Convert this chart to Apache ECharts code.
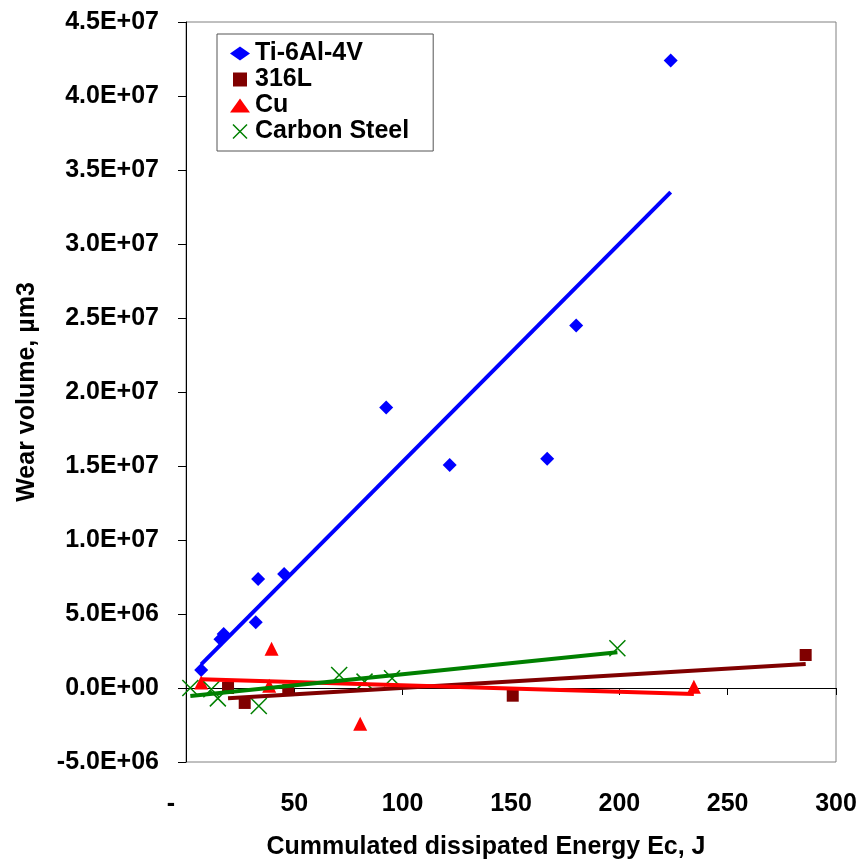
<!DOCTYPE html>
<html>
<head>
<meta charset="utf-8">
<script src="https://cdn.jsdelivr.net/npm/echarts@6/dist/echarts.min.js"></script>
<style>
html,body{margin:0;padding:0;background:#fff;}
#chart{width:862px;height:863px;}
</style>
</head>
<body>
<div id="chart"></div>
<script>
// ---- data ----
const seriesNames = ['Ti-6Al-4V', '316L', 'Cu', 'Carbon Steel'];

const tiX = [7.0, 15.9, 17.4, 32.2, 33.3, 45.3, 92.4, 121.7, 166.7, 180.1, 223.7];
const tiY = [1.22e6, 3.3e6, 3.65e6, 4.44e6, 7.37e6, 7.71e6, 1.896e7, 1.507e7, 1.549e7, 2.45e7, 4.24e7];

const s316X = [19.4, 27.1, 47.2, 150.8, 286.0];
const s316Y = [0.0, -1.01e6, -0.14e6, -0.52e6, 2.23e6];

const cuX = [7.0, 38.4, 39.5, 80.4, 234.4];
const cuY = [0.37e6, 0.16e6, 2.65e6, -2.41e6, 0.09e6];

const csX = [2.0, 11.7, 14.7, 33.6, 70.7, 82.4, 95.1, 199.1];
const csY = [0.0, -0.09e6, -0.7e6, -1.22e6, 0.88e6, 0.43e6, 0.66e6, 2.69e6];

// trend lines (end points)
const tiTrendX = [7.0, 223.7];
const tiTrendY = [1.6e6, 3.35e7];
const s316TrendX = [19.4, 286.0];
const s316TrendY = [-0.7e6, 1.62e6];
const cuTrendX = [7.0, 234.4];
const cuTrendY = [0.59e6, -0.41e6];
const csTrendX = [2.0, 199.1];
const csTrendY = [-0.54e6, 2.42e6];

const xTicks = {min: 0, max: 300, interval: 50};
const yTicks = {min: -5e6, max: 4.5e7, interval: 5e6};

const xTitle = 'Cummulated dissipated Energy Ec, J';
const yTitle = 'Wear volume, µm3';

// ---- helpers ----
function zip(xs, ys) { return xs.map((x, i) => [x, ys[i]]); }
function sci(v) {
  const s = Number(v).toExponential(1);
  const m = s.match(/^(-?[\d.]+)e([+-])(\d+)$/);
  if (!m) return s;
  return m[1] + 'E' + m[2] + m[3].padStart(2, '0');
}

const FONT = "'Liberation Sans', Arial, sans-serif";
const XPATH = 'path://M0,0L16,16M16,0L0,16';
const SQPATH = 'path://M0,0L10,0L10,10L0,10Z';
const colors = {ti: '#0000FF', s316: '#800000', cu: '#FF0000', cs: '#008000'};

const chart = echarts.init(document.getElementById('chart'), null, {renderer: 'canvas'});

function trend(name, xs, ys, color) {
  return {
    name: name, type: 'line', data: zip(xs, ys), symbol: 'none', showSymbol: false,
    lineStyle: {color: color, width: 4, opacity: 1}, itemStyle: {color: color}, silent: true, animation: false
  };
}

const option = {
  animation: false,
  backgroundColor: '#fff',
  textStyle: {fontFamily: FONT},
  grid: {left: 186, top: 22, width: 650, height: 740, show: true, borderColor: '#808080', borderWidth: 1, backgroundColor: 'transparent', containLabel: false},
  legend: {
    left: 217, top: 34, orient: 'vertical',
    backgroundColor: '#fff', borderColor: '#555', borderWidth: 1,
    padding: [7, 24, 7, 13], itemGap: 1, itemWidth: 20, itemHeight: 14,
    selectedMode: false,
    textStyle: {fontFamily: FONT, fontWeight: 'bold', fontSize: 25, lineHeight: 25, color: '#000'},
    data: [
      {name: seriesNames[0], icon: 'diamond', itemStyle: {color: colors.ti, opacity: 1}},
      {name: seriesNames[1], icon: SQPATH, itemStyle: {color: colors.s316, opacity: 1}},
      {name: seriesNames[2], icon: 'triangle', itemStyle: {color: colors.cu, opacity: 1}},
      {name: seriesNames[3], icon: XPATH, itemStyle: {color: 'transparent', borderColor: colors.cs, borderWidth: 1.5, opacity: 1}}
    ]
  },
  xAxis: [
    {
      type: 'value', min: xTicks.min, max: xTicks.max, interval: xTicks.interval, position: 'bottom',
      axisLine: {show: false, onZero: false}, axisTick: {show: false}, splitLine: {show: false},
      axisLabel: {
        margin: 30, color: '#000', fontFamily: FONT, fontWeight: 'bold', fontSize: 25,
        formatter: v => v === 0 ? '{d|-}' : String(v),
        rich: {d: {padding: [0, 30, 0, 0], fontFamily: FONT, fontWeight: 'bold', fontSize: 25, color: '#000'}}
      }
    },
    {
      type: 'value', min: xTicks.min, max: xTicks.max, interval: xTicks.interval, position: 'bottom',
      axisLine: {show: true, onZero: true, onZeroAxisIndex: 0, lineStyle: {color: '#000', width: 1}},
      axisTick: {show: true, inside: false, length: 7, lineStyle: {color: '#000', width: 1}},
      axisLabel: {show: false}, splitLine: {show: false}
    }
  ],
  yAxis: [{
    type: 'value', min: yTicks.min, max: yTicks.max, interval: yTicks.interval, position: 'left',
    axisLine: {show: true, onZero: false, lineStyle: {color: '#000', width: 1}},
    axisTick: {show: true, inside: false, length: 8, lineStyle: {color: '#000', width: 1}},
    splitLine: {show: false},
    axisLabel: {margin: 27, color: '#000', fontFamily: FONT, fontWeight: 'bold', fontSize: 25, formatter: v => sci(v)}
  }],
  graphic: [
    {type: 'text', x: 486, y: 847, silent: true,
     style: {text: xTitle, font: "bold 25px 'Liberation Sans', Arial, sans-serif", fill: '#000', align: 'center', verticalAlign: 'middle'}},
    {type: 'text', x: 27, y: 392, rotation: Math.PI / 2, silent: true,
     style: {text: yTitle, font: "bold 25px 'Liberation Sans', Arial, sans-serif", fill: '#000', align: 'center', verticalAlign: 'middle'}}
  ],
  series: [
    {name: seriesNames[0], type: 'scatter', data: zip(tiX, tiY), symbol: 'diamond', symbolSize: 14, itemStyle: {color: colors.ti, opacity: 1}},
    trend('Ti trend', tiTrendX, tiTrendY, colors.ti),
    {name: seriesNames[1], type: 'scatter', data: zip(s316X, s316Y), symbol: 'rect', symbolSize: 12, itemStyle: {color: colors.s316, opacity: 1}},
    trend('316L trend', s316TrendX, s316TrendY, colors.s316),
    {name: seriesNames[2], type: 'scatter', data: zip(cuX, cuY), symbol: 'triangle', symbolSize: 14, itemStyle: {color: colors.cu, opacity: 1}},
    trend('Cu trend', cuTrendX, cuTrendY, colors.cu),
    {name: seriesNames[3], type: 'scatter', data: zip(csX, csY), symbol: XPATH, symbolSize: 16,
     itemStyle: {color: 'transparent', borderColor: colors.cs, borderWidth: 1.5, opacity: 1}},
    trend('Carbon Steel trend', csTrendX, csTrendY, colors.cs)
  ]
};
chart.setOption(option);
</script>
</body>
</html>
